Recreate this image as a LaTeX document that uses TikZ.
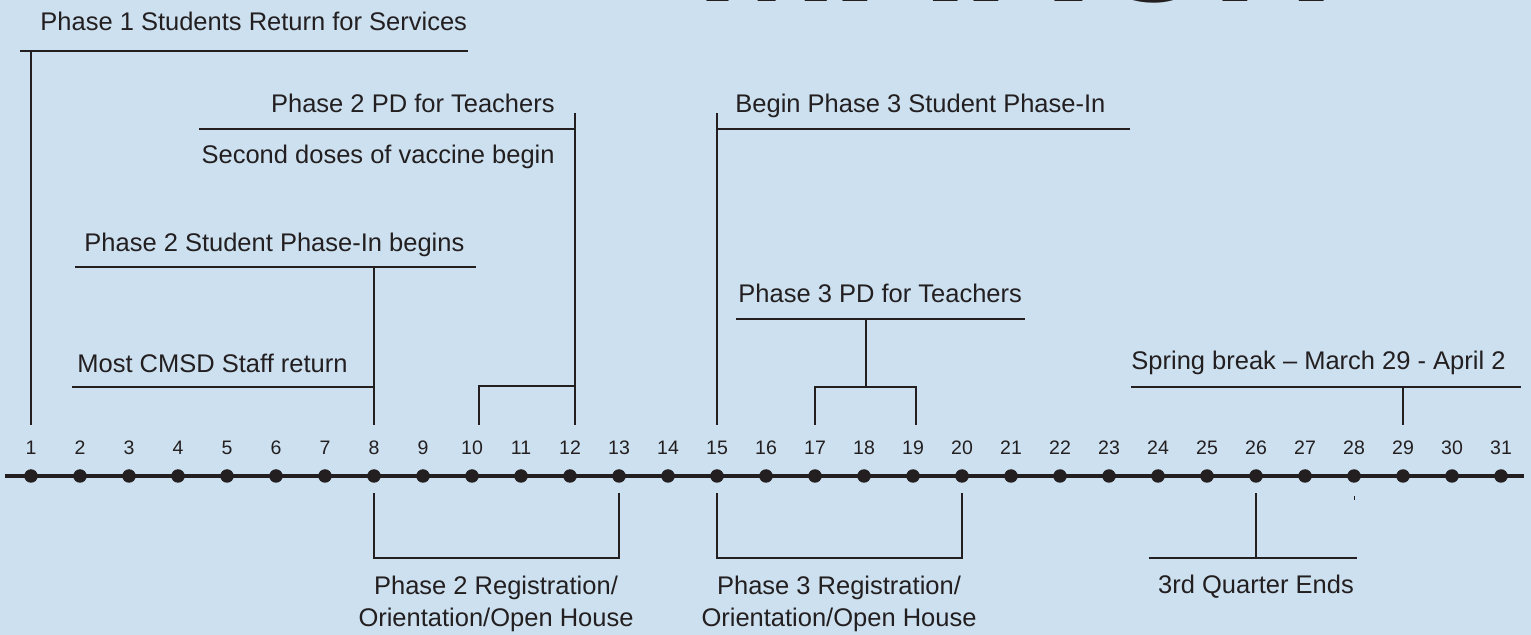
\documentclass[tikz,border=0pt]{standalone}
\usepackage{fontspec}
\setmainfont{Liberation Sans}
\usetikzlibrary{calc}
\definecolor{skyback}{HTML}{CCE0EF}
\definecolor{ink}{HTML}{231F20}

\begin{document}
\begin{tikzpicture}[x=0.5pt,y=-0.5pt,
    bar/.style={draw=ink,line width=1.3pt},
    tick/.style={draw=ink,line width=1.2pt},
    dot/.style={circle,fill=ink,inner sep=0pt,minimum size=6.75pt},
    daynum/.style={inner sep=0pt,minimum height=23pt,text=ink,font=\fontsize{9.75pt}{12pt}\selectfont},
    lbl/.style={inner sep=0pt,text=ink,font=\fontsize{12.75pt}{16pt}\selectfont}]
%	\draw [help lines] (0,0) grid (1531,635);
	\fill [skyback] (0,0) rectangle (1531,635);
	\useasboundingbox (0,0) rectangle (1531,635);
	\clip (0,0) rectangle (1531,635);
	% title, only its foot shows
	\node [anchor=base west,inner sep=0pt,text=ink,font=\fontsize{86pt}{90pt}\selectfont\bfseries] (title) at (695,2) {MARCH};
	% the days
	\coordinate (tl-w) at (5,476);
	\coordinate (tl-e) at (1524,476);
	\draw [ink,line width=1.75pt] (tl-w) -- (tl-e);
	\foreach \d in {1,...,31}{
		\node [dot] (d\d) at ({31+(\d-1)*49},476) {};
		\node [daynum] (n\d) at ({31+(\d-1)*49},448) {\d};
		\coordinate (b\d) at ([yshift=-5pt]d\d.south);
	}
	% Phase 1
	\node [lbl,anchor=base west] (ph1) at (40,31) {Phase 1 Students Return for Services};
	\coordinate (ph1-w) at (20,51);
	\coordinate (ph1-e) at (468,51);
	\draw [bar] (ph1-w) -- (ph1-e);
	\draw [tick] (n1.north |- ph1-w) -- (n1.north);
	% Phase 2 PD
	\node [lbl,anchor=base east] (pd2) at (555,113) {Phase 2 PD for Teachers};
	\node [lbl,anchor=base east] (dose) at (555,164) {Second doses of vaccine begin};
	\coordinate (pd2-w) at (199,129);
	\coordinate (pd2-top) at (575,113);
	\coordinate (pd2-tip) at ([xshift=2.5pt]n12.north);
	\coordinate (pd2-knee) at (575,386);
	\draw [bar] (pd2-w) -- (pd2-w -| pd2-top);
	\draw [tick] (pd2-top) -- (pd2-tip);
	\draw [tick] ([xshift=3.5pt]n10.north) |- (pd2-knee);
	% Begin Phase 3
	\node [lbl,anchor=base west] (sp3) at (735,113) {Begin Phase 3 Student Phase-In};
	\coordinate (sp3-top) at (717,113);
	\coordinate (sp3-e) at (1130,129);
	\draw [bar] (sp3-top |- sp3-e) -- (sp3-e);
	\draw [tick] (sp3-top) -- (n15.north);
	% Phase 2 students
	\node [lbl,anchor=base west] (sp2) at (84,252) {Phase 2 Student Phase-In begins};
	\coordinate (sp2-w) at (75,267);
	\coordinate (sp2-e) at (476,267);
	\draw [bar] (sp2-w) -- (sp2-e);
	\draw [tick] (n8.north |- sp2-w) -- (n8.north);
	\node [lbl,anchor=base west] (staff) at (77,373) {Most CMSD Staff return};
	\coordinate (staff-w) at (72,387);
	\draw [bar] (staff-w) -- (staff-w -| n8.north);
	% Phase 3 PD
	\node [lbl,anchor=base west] (pd3) at (738,303) {Phase 3 PD for Teachers};
	\coordinate (pd3-w) at (736,319);
	\coordinate (pd3-e) at (1025,319);
	\coordinate (pd3-stem) at (866,319);
	\coordinate (pd3-knee) at (866,387);
	\draw [bar] (pd3-w) -- (pd3-e);
	\draw [tick] (pd3-stem) -- (pd3-knee);
	\draw [tick] (n17.north) |- (pd3-knee) -| ([xshift=1.5pt]n19.north);
	% Spring break
	\node [lbl,anchor=base west] (spring) at (1131,370) {Spring break – March 29 - April 2};
	\coordinate (spring-w) at (1131,387);
	\coordinate (spring-e) at (1521,387);
	\draw [bar] (spring-w) -- (spring-e);
	\draw [tick] (n29.north |- spring-w) -- (n29.north);
	% below the days
	\coordinate (foot) at (0,558);
	\draw [tick] (b8) |- (b13 |- foot) -- (b13);
	\draw [tick] (b15) |- (b20 |- foot) -- (b20);
	\draw [bar] (b8 |- foot) -- (b13 |- foot);
	\draw [bar] (b15 |- foot) -- (b20 |- foot);
	\node [lbl,align=center,anchor=base] (reg2) at (496,626) {Phase 2 Registration/\\Orientation/Open House};
	\node [lbl,align=center,anchor=base] (reg3) at (839,626) {Phase 3 Registration/\\Orientation/Open House};
	\coordinate (q3-w) at (1149,558);
	\coordinate (q3-e) at (1357,558);
	\draw [bar] (q3-w) -- (q3-e);
	\draw [tick] (b26) -- (b26 |- q3-w);
	\node [lbl,anchor=base] (q3) at (1256,594) {3rd Quarter Ends};
	\draw [ink,line width=0.4pt] (1354,496) -- (1354,500);
\end{tikzpicture}
\end{document}
